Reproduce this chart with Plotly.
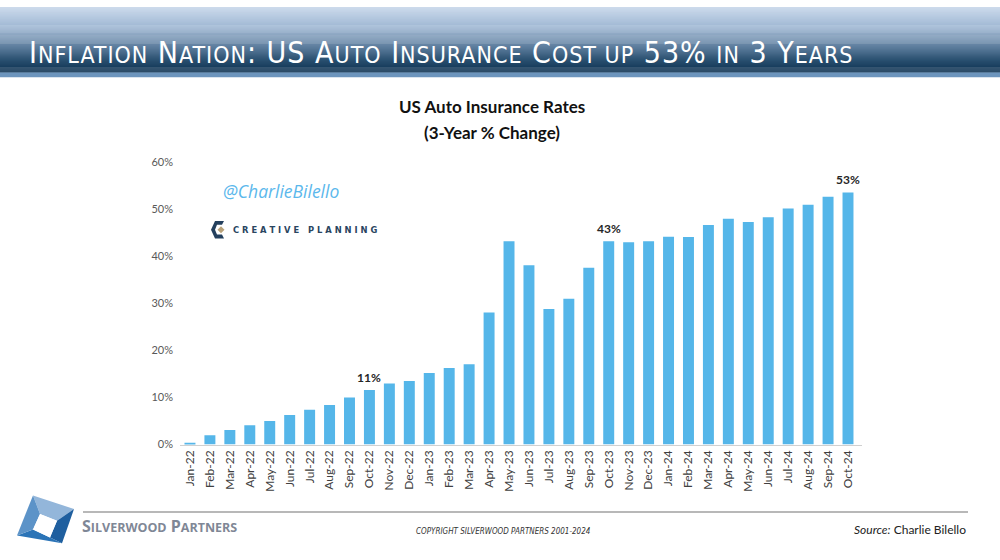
import plotly.graph_objects as go

W, H = 1000, 560

months = ["Jan-22", "Feb-22", "Mar-22", "Apr-22", "May-22", "Jun-22", "Jul-22", "Aug-22",
          "Sep-22", "Oct-22", "Nov-22", "Dec-22", "Jan-23", "Feb-23", "Mar-23", "Apr-23",
          "May-23", "Jun-23", "Jul-23", "Aug-23", "Sep-23", "Oct-23", "Nov-23", "Dec-23",
          "Jan-24", "Feb-24", "Mar-24", "Apr-24", "May-24", "Jun-24", "Jul-24", "Aug-24",
          "Sep-24", "Oct-24"]
change_pct = [0.4, 2.0, 3.1, 4.1, 5.0, 6.3, 7.4, 8.4, 10.0, 11.6, 13.0, 13.5, 15.2, 16.3,
              17.1, 28.1, 43.2, 38.1, 28.8, 31.0, 37.6, 43.2, 43.0, 43.2, 44.2, 44.1, 46.7,
              48.0, 47.3, 48.3, 50.2, 51.0, 52.7, 53.6]
labelled = {"Oct-22": "11%", "Oct-23": "43%", "Oct-24": "53%"}
y_ticks = [0, 0.1, 0.2, 0.3, 0.4, 0.5, 0.6]

values = [v / 100 for v in change_pct]


def px(x):
    return x / W


def py(y):
    return 1 - y / H


fig = go.Figure()
fig.add_trace(go.Bar(x=months, y=values, marker=dict(color="#55b6e9", line=dict(width=0)),
                     hoverinfo="x+y"))

shapes = []
annotations = []

# header gradient
stops = [(0, (205, 219, 236)), (20, (160, 184, 212)), (40, (96, 128, 160)),
         (55, (40, 78, 110)), (67, (12, 48, 80))]


def col_at(y):
    for (y0, c0), (y1, c1) in zip(stops[:-1], stops[1:]):
        if y0 <= y <= y1:
            t = (y - y0) / (y1 - y0)
            return "rgb(%d,%d,%d)" % tuple(round(a + (b - a) * t) for a, b in zip(c0, c1))
    return "rgb(12,48,80)"


step = 1
for y in range(0, 67, step):
    shapes.append(dict(type="rect", xref="paper", yref="paper", x0=0, x1=1,
                       y0=py(y + step + 0.3), y1=py(y), fillcolor=col_at(y + 0.5),
                       line=dict(width=0), layer="below"))
shapes.append(dict(type="rect", xref="paper", yref="paper", x0=0, x1=1,
                   y0=py(72), y1=py(67), fillcolor="#6d95bd", line=dict(width=0), layer="below"))

# header title (small caps)
s = "<span style='font-size:23px'>"
e = "</span>"
title_html = ("<span style='letter-spacing:1px'>I" + s + "NFLATION" + e + " N" + s + "ATION" + e +
              ": US A" + s + "UTO" + e + " I" + s + "NSURANCE" + e + " C" + s + "OST UP" + e +
              " 53% " + s + "IN" + e + " 3 Y" + s + "EARS" + e + "</span>")
annotations.append(dict(text=title_html, xref="paper", yref="paper", x=px(27), y=py(47),
                        xanchor="left", yanchor="middle", showarrow=False,
                        font=dict(family="Liberation Sans Narrow, Arial Narrow, DejaVu Sans Condensed, sans-serif",
                                  size=30, color="white")))

# chart titles
annotations.append(dict(text="<b>US Auto Insurance Rates</b>", xref="paper", yref="paper",
                        x=px(492), y=py(102), showarrow=False, xanchor="center", yanchor="middle",
                        font=dict(family="Lato, Open Sans, sans-serif", size=17, color="#111111")))
annotations.append(dict(text="<b>(3-Year % Change)</b>", xref="paper", yref="paper",
                        x=px(492), y=py(128), showarrow=False, xanchor="center", yanchor="middle",
                        font=dict(family="Lato, Open Sans, sans-serif", size=17, color="#111111")))

# bar value labels
for m, v in zip(months, values):
    if m in labelled:
        annotations.append(dict(text="<b>" + labelled[m] + "</b>", x=m, y=v, xref="x", yref="y",
                                showarrow=False, yanchor="bottom", yshift=3,
                                font=dict(family="Lato, Open Sans, sans-serif", size=12,
                                          color="#262626")))

# @CharlieBilello
annotations.append(dict(text="<i>@CharlieBilello</i>", xref="paper", yref="paper", x=px(221),
                        y=py(188), xanchor="left", yanchor="middle", showarrow=False,
                        font=dict(family="Open Sans, sans-serif", size=17.5, color="#5bb8ec")))

# Creative Planning logo
cpts = [(224, 219), (215, 219), (211, 228), (215, 237), (224, 237), (222, 233), (217, 233),
        (215, 228), (217, 223), (222, 223)]


def poly(pts):
    return "M " + " L ".join("%f,%f" % (px(x), py(y)) for x, y in pts) + " Z"


shapes.append(dict(type="path", xref="paper", yref="paper", path=poly(cpts),
                   fillcolor="#24405e", line=dict(width=0)))
shapes.append(dict(type="path", xref="paper", yref="paper",
                   path=poly([(221, 224.5), (224.5, 228), (221, 231.5), (217.5, 228)]),
                   fillcolor="#b9a27a", line=dict(width=0)))
annotations.append(dict(text="<b>C R E A T I V E   P L A N N I N G</b>", xref="paper", yref="paper",
                        x=px(231), y=py(228), xanchor="left", yanchor="middle", showarrow=False,
                        font=dict(family="DejaVu Sans, sans-serif", size=8.4, color="#2a4560")))

# footer line
shapes.append(dict(type="line", xref="paper", yref="paper", x0=px(83), x1=px(968),
                   y0=py(517), y1=py(517), line=dict(color="#b8b8b8", width=2)))

# Silverwood logo
A, B, C, D = (33, 500), (74, 514), (62, 549), (17, 541)
a, b, c, d = (40, 519), (57, 526), (50, 543), (33, 535)
for pts, colr in [([A, B, b, a], "#93b6da"), ([B, C, c, b], "#1f5f9f"),
                  ([C, D, d, c], "#2b74b7"), ([D, A, a, d], "#5c93c8")]:
    shapes.append(dict(type="path", xref="paper", yref="paper", path=poly(pts),
                       fillcolor=colr, line=dict(width=0)))
shapes.append(dict(type="path", xref="paper", yref="paper", path=poly([a, b, c, d]),
                   fillcolor="white", line=dict(width=0)))

s2 = "<span style='font-size:12.5px'>"
annotations.append(dict(text="<b>S" + s2 + "ILVERWOOD" + e + " P" + s2 + "ARTNERS" + e + "</b>",
                        xref="paper", yref="paper", x=px(80), y=py(531), xanchor="left",
                        yanchor="middle", showarrow=False,
                        font=dict(family="Open Sans, sans-serif", size=16, color="#7f8796")))
annotations.append(dict(text="<i>COPYRIGHT SILVERWOOD PARTNERS 2001-2024</i>", xref="paper",
                        yref="paper", x=px(503), y=py(537), xanchor="center", yanchor="middle",
                        showarrow=False,
                        font=dict(family="Liberation Sans Narrow, DejaVu Sans Condensed, sans-serif",
                                  size=8, color="#333333")))
annotations.append(dict(text="<i>Source:</i> Charlie Bilello", xref="paper", yref="paper",
                        x=px(968), y=py(535), xanchor="right", yanchor="middle", showarrow=False,
                        font=dict(family="Lato, Open Sans, sans-serif", size=12, color="#222222")))

fig.update_layout(
    width=W, height=H, margin=dict(l=0, r=0, t=0, b=0),
    paper_bgcolor="white", plot_bgcolor="white",
    showlegend=False, bargap=0.45,
    shapes=shapes, annotations=annotations,
    xaxis=dict(domain=[px(180), px(862)], tickangle=-90, showgrid=False, zeroline=False,
               showline=True, linecolor="#d0d0d0", linewidth=1, ticks="",
               tickfont=dict(family="Lato, Open Sans, sans-serif", size=12, color="#404040")),
    yaxis=dict(domain=[py(448), py(159)], range=[0, 0.6], tickvals=y_ticks, tickformat=".0%",
               showgrid=False, zeroline=False, showline=False, ticks="", ticklabelstandoff=6,
               tickfont=dict(family="Lato, Open Sans, sans-serif", size=11, color="#595959")),
)

fig.write_html("out.html", config={"displayModeBar": False},
               post_script=("document.documentElement.style.overflow='hidden';"
                            "document.body.style.margin='0';"
                            "document.body.style.height='560px';"
                            "document.body.style.overflow='hidden';"))
